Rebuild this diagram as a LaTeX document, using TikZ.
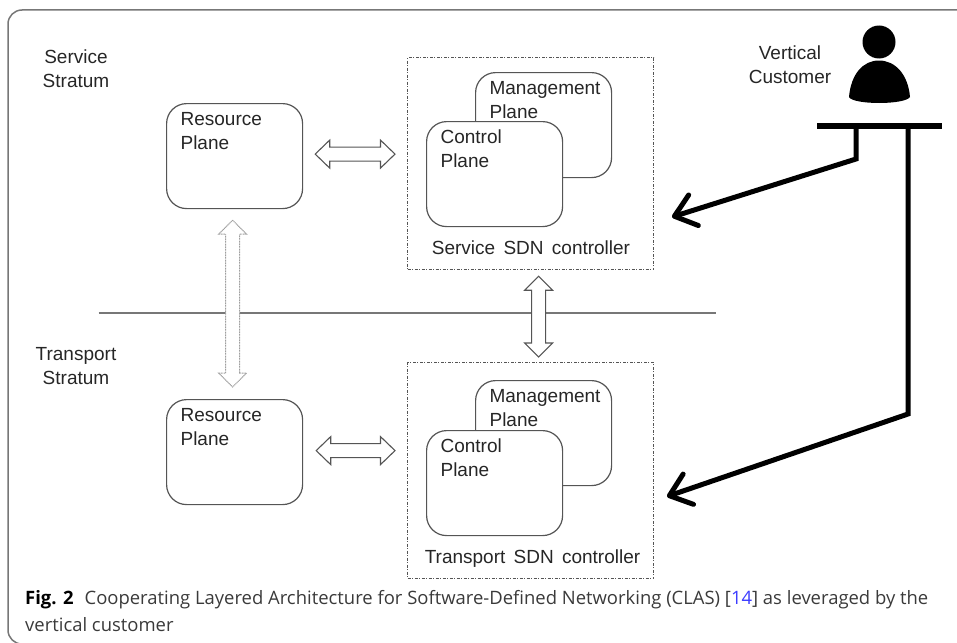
\documentclass[tikz,border=0pt]{standalone}
\usepackage{fontspec}
\setmainfont{Liberation Sans}
\newfontfamily\capfont{Open Sans}
\usetikzlibrary{arrows.meta,calc}
\definecolor{boxgray}{HTML}{555555}
\definecolor{linegray}{HTML}{777777}
\definecolor{captxt}{HTML}{3A3A3A}
\definecolor{citeblue}{HTML}{3C3CFF}
\newcommand{\diagfont}{\fontsize{19}{23.7}\selectfont}
\newcommand{\planefont}{\diagfont\hyphenpenalty=10000\relax}
\newcommand{\hblock}[3][blockarrow]{\draw[#1] (#2) -- ++(14.5,-14) -- ++(0,7) -- ($(#3)+(-14.5,-7)$) -- ++(0,-7) -- (#3) -- ++(-14.5,14) -- ++(0,-7) -- ($(#2)+(14.5,7)$) -- ++(0,7) -- cycle;}
\newcommand{\vblock}[3][blockarrow]{\draw[#1] (#2) -- ++(14,14) -- ++(-7,0) -- ($(#3)+(7,-14)$) -- ++(7,0) -- (#3) -- ++(-14,-14) -- ++(7,0) -- ($(#2)+(-7,14)$) -- ++(-7,0) -- cycle;}
\tikzset{
  x=1pt,y=-1pt,
  planebox/.style={draw=boxgray,line width=1.2pt,rounded corners=20pt,fill=white,anchor=north west,
    minimum width=136pt,minimum height=105pt,inner xsep=14pt,inner ysep=0pt,
    text width=108pt,align=left,font=\planefont,text height=22pt,text depth=83pt,text=black!85},
  ctrlbox/.style={draw=boxgray,line width=1.2pt,dash pattern=on 3pt off 1.5pt on 1pt off 1.5pt,anchor=north west,
    minimum width=246pt,inner sep=0pt},
  plaintext/.style={font=\diagfont,align=center,text=black!85,inner sep=0pt},
  blockarrow/.style={draw=boxgray,line width=1.1pt,fill=white,line join=miter},
  faintarrow/.style={draw=gray!75,line width=1pt,fill=white,dash pattern=on 1pt off .6pt,line join=miter},
  strike/.style={draw=black,line width=5pt,line join=miter,-{Straight Barb[length=20pt,width=32pt,line width=5pt,round]}},
  divider/.style={draw=linegray,line width=1.6pt},
  captext/.style={font=\capfont\fontsize{18.45}{28}\selectfont,text=captxt,inner sep=0pt,anchor=base west},
}
\begin{document}
\begin{tikzpicture}
\useasboundingbox (0,0) rectangle (957,642);
\draw[draw=linegray,line width=1.5pt,rounded corners=14pt] (957,10) -- (8,10) -- (8,644) -- (30,644);
% divider
\coordinate (divL) at (98.5,313);
\coordinate (divR) at (716,313);
\draw[divider] (divL) -- (divR);
% stratum labels
\node[plaintext,anchor=base] (svc) at (76,87) {Service\\Stratum};
\node[plaintext,anchor=base] (trn) at (76,384) {Transport\\Stratum};
\node[plaintext,anchor=base] (vc) at (790,83) {Vertical\\Customer};
% resource planes
\node[planebox] (rp1) at (166,103) {Resource\\Plane};
\node[planebox] (rp2) at (166,399) {Resource\\Plane};
% controllers
\node[ctrlbox,minimum height=212pt] (sc) at (407,57) {};
\node[ctrlbox,minimum height=216pt] (tc) at (407,362) {};
\node[planebox] (mp1) at (475,72) {Management\\Plane};
\node[planebox] (cp1) at (426,121) {Control\\Plane};
\node[planebox] (mp2) at (475,380) {Management\\Plane};
\node[planebox] (cp2) at (426,430) {Control\\Plane};
\node[plaintext,anchor=base] (sl) at (531,254) {\spaceskip=8.3pt Service SDN controller};
\node[plaintext,anchor=base] (tl) at (532.5,563) {\spaceskip=8.3pt Transport SDN controller};
% block arrows
\coordinate (a1l) at ($(rp1.east)+(12,-2)$);
\coordinate (a1r) at ($(sc.west |- a1l)+(-12,0)$);
\hblock{a1l}{a1r}
\coordinate (a2l) at ($(rp2.east)+(13,-1.5)$);
\coordinate (a2r) at ($(tc.west |- a2l)+(-12,0)$);
\hblock{a2l}{a2r}
\coordinate (a3t) at ($(sc.south)+(8,6)$);
\coordinate (a3b) at ($(tc.north)+(8,-5)$);
\vblock{a3t}{a3b}
\coordinate (a4t) at ($(rp1.south)+(-2,11)$);
\coordinate (a4b) at ($(rp2.north)+(-2,-12)$);
\vblock[faintarrow]{a4t}{a4b}
% person
\node[circle,fill=black,minimum size=33pt,inner sep=0pt] (head) at (879,42) {};
\fill (849,97) .. controls (851,74) and (863,60.5) .. (879,60.5) .. controls (895,60.5) and (908,74) .. (910,97) .. controls (905,105) and (853,105) .. (849,97) -- cycle;
\node[fill=black,minimum width=125pt,minimum height=6pt,inner sep=0pt,anchor=north west] (bar) at (817,122.5) {};
% strikes
\coordinate (k1) at (856,159);
\coordinate (t1) at (672,217);
\coordinate (k2) at (908,414);
\coordinate (t2) at (667,496.5);
\draw[strike] (bar.south -| k1) -- (k1) -- (t1);
\draw[strike] (bar.south -| k2) -- (k2) -- (t2);
% caption
\node[captext] (cap1) at (25,604) {{\bfseries\color{black}Fig. 2}\hspace{.6em}Cooperating Layered Architecture for Software-Defined Networking (CLAS) [{\color{citeblue}14}] as leveraged by the};
\node[captext] (cap2) at (25,631) {vertical customer};
\end{tikzpicture}
\end{document}
